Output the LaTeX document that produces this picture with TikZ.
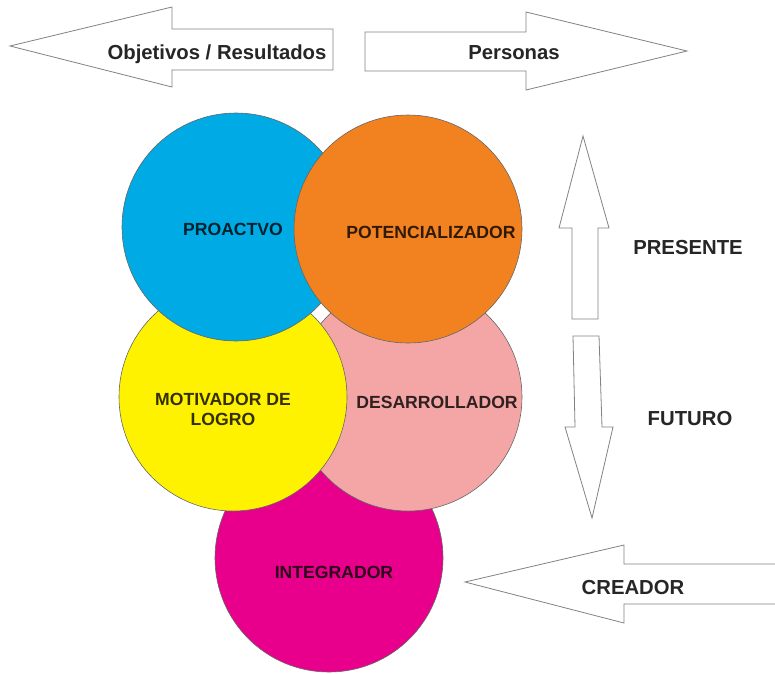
\documentclass[tikz,border=0pt]{standalone}
\usepackage{fontspec}
\setmainfont{Liberation Sans}
\definecolor{cblue}{RGB}{0,170,228}
\definecolor{corange}{RGB}{242,130,32}
\definecolor{cyellow}{RGB}{255,242,0}
\definecolor{cpink}{RGB}{244,166,166}
\definecolor{cmagenta}{RGB}{232,0,140}
\definecolor{arrowline}{RGB}{130,130,130}
\begin{document}
\begin{tikzpicture}[x=1pt,y=-1pt,
  disc/.style={circle,minimum size=228pt,inner sep=0pt,draw=black!60,line width=0.6pt},
  bigarrow/.style={draw=arrowline,fill=white,line width=0.8pt,line join=miter},
  arrowlabel/.style={font=\bfseries\fontsize{20.3}{24}\selectfont,text=black!85,anchor=base,inner sep=0pt},
  disclabel/.style={font=\bfseries\fontsize{17.6}{20}\selectfont,text=black,text opacity=0.8,anchor=base,inner sep=0pt,align=center}]
\useasboundingbox (0,0) rectangle (775,673);
% circles (bottom to top)
\node[disc,fill=cmagenta] (integ) at (329,558) {};
\node[disc,fill=cpink] (desar) at (408,397) {};
\node[disc,fill=cyellow] (motiv) at (233,397) {};
\node[disc,fill=cblue] (proac) at (236,227) {};
\node[disc,fill=corange] (poten) at (408,229) {};
% circle labels
\node[disclabel] (lproac) at (233,235) {PROACTVO};
\node[disclabel] (lpoten) at (431,238) {POTENCIALIZADOR};
\node[disclabel,anchor=base] (lmotiv1) at (223,405) {MOTIVADOR DE};
\node[disclabel,anchor=base] (lmotiv2) at (223,425) {LOGRO};
\node[disclabel] (ldesar) at (437,408) {DESARROLLADOR};
\node[disclabel] (linteg) at (334,578) {INTEGRADOR};
% big arrows
\draw[bigarrow] (10,46) -- (172,7) -- (172,29) -- (333,29) -- (333,70) -- (172,70) -- (172,87) -- cycle;
\draw[bigarrow] (365,32) -- (526,32) -- (526,12) -- (687,51) -- (526,90) -- (526,71) -- (365,71) -- cycle;
\draw[bigarrow] (583,136) -- (609,228) -- (598,228) -- (598,319) -- (572,319) -- (572,228) -- (559,228) -- cycle;
\draw[bigarrow] (573,336) -- (599,336) -- (602,427) -- (613,427) -- (592,518) -- (565,427) -- (575,427) -- cycle;
\fill[white] (465,582) -- (624,545) -- (624,564) -- (780,564) -- (780,604) -- (624,604) -- (624,623) -- cycle;
\draw[bigarrow,fill=none] (780,564) -- (624,564) -- (624,545) -- (465,582) -- (624,623) -- (624,604) -- (780,604);
% arrow labels
\node[arrowlabel] (lobj) at (217,59) {Objetivos / Resultados};
\node[arrowlabel] (lper) at (514,59.5) {Personas};
\node[arrowlabel] (lpres) at (688,254) {PRESENTE};
\node[arrowlabel] (lfut) at (690,425) {FUTURO};
\node[arrowlabel] (lcrea) at (633,594) {CREADOR};
\end{tikzpicture}
\end{document}
